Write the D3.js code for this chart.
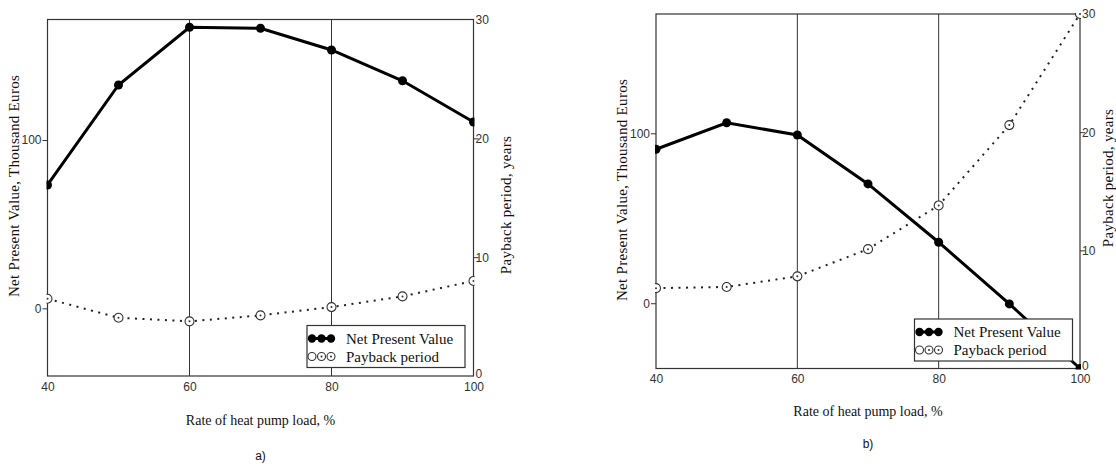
<!DOCTYPE html>
<html>
<head>
<meta charset="utf-8">
<script src="https://cdn.jsdelivr.net/npm/d3@7"></script>
<style>
  body { margin: 0; background: #fff; }
  svg { display: block; }
</style>
</head>
<body>
<svg id="chart" width="1116" height="464"></svg>
<script>
// Rate of heat pump load, %
const loads = [40, 50, 60, 70, 80, 90, 100];

// panel a)
const npvA = [73.3, 132.7, 167, 166.4, 153.5, 135.2, 110.7];
const paybackA = [6.5, 4.9, 4.6, 5.1, 5.8, 6.7, 8.0];

// panel b)
const npvB = [90.6, 106.2, 99, 70.2, 35.9, -0.4, -38.4];
const paybackB = [6.8, 6.9, 7.8, 10.1, 13.8, 20.6, 30];

// tick labels
const xTicks = [40, 60, 80, 100];
const gridX = [60, 80];
const npvTicks = [0, 100];
const paybackTicks = [0, 10, 20, 30];

const legendLabels = ["Net Present Value", "Payback period"];
const xTitle = "Rate of heat pump load, %";
const yTitleLeft = "Net Present Value, Thousand Euros";
const yTitleRight = "Payback period, years";

const svg = d3.select("#chart");
const serif = "'Liberation Serif', 'Times New Roman', serif";
const sans = "'Liberation Sans', Arial, sans-serif";
const axisColor = "#333";

function drawPanel(id, cfg, npv, payback) {
  const g = svg.append("g").attr("id", id);
  const x = d3.scaleLinear().domain([40, 100]).range([cfg.left, cfg.right]);
  const yL = d3.scaleLinear().domain(cfg.npvDomain).range([cfg.bottom, cfg.top]);
  const yR = d3.scaleLinear().domain([0, 30]).range([cfg.bottom, cfg.top]);

  // clip to plot area
  g.append("clipPath").attr("id", id + "-clip")
    .append("rect")
    .attr("x", cfg.left - 1).attr("y", cfg.top - 1)
    .attr("width", cfg.right - cfg.left + 2).attr("height", cfg.bottom - cfg.top + 2);

  // vertical grid lines
  g.selectAll(".grid")
    .data(gridX)
    .enter()
    .append("line")
    .attr("x1", d => x(d)).attr("x2", d => x(d))
    .attr("y1", cfg.top).attr("y2", cfg.bottom)
    .attr("stroke", axisColor).attr("stroke-width", 1);

  // left axis
  g.append("g")
    .attr("transform", `translate(${cfg.left},0)`)
    .call(d3.axisLeft(yL).tickValues(npvTicks).tickSize(5).tickPadding(1).tickFormat(d3.format("d")))
    .call(a => a.select(".domain").remove())
    .call(a => a.selectAll("line").attr("stroke", axisColor))
    .call(a => a.selectAll("text").attr("fill", axisColor).style("font", `12px ${sans}`));

  // right axis
  g.append("g")
    .attr("transform", `translate(${cfg.right},0)`)
    .call(d3.axisRight(yR).tickValues(paybackTicks).tickSize(5).tickPadding(1).tickFormat(d3.format("d")))
    .call(a => a.select(".domain").remove())
    .call(a => a.selectAll("line").attr("stroke", d => (d === 0 || d === 30) ? "none" : axisColor))
    .call(a => a.selectAll("text").attr("fill", axisColor).style("font", `12px ${sans}`)
      .attr("x", 2).attr("dy", d => d === 0 ? "0.1em" : "0.32em"));

  // bottom axis labels
  g.append("g")
    .attr("transform", `translate(0,${cfg.bottom})`)
    .call(d3.axisBottom(x).tickValues(xTicks).tickSize(0).tickPadding(cfg.xPad).tickFormat(d3.format("d")))
    .call(a => a.select(".domain").remove())
    .call(a => a.selectAll("text").attr("fill", axisColor).style("font", `12px ${sans}`));

  // plot frame
  g.append("rect")
    .attr("x", cfg.left).attr("y", cfg.top)
    .attr("width", cfg.right - cfg.left).attr("height", cfg.bottom - cfg.top)
    .attr("fill", "none").attr("stroke", axisColor).attr("stroke-width", 1.2);

  const plot = g.append("g").attr("clip-path", `url(#${id}-clip)`);

  // payback period, dotted
  const ptsP = loads.map((l, i) => [l, payback[i]]);
  plot.append("path")
    .datum(ptsP)
    .attr("d", d3.line().x(d => x(d[0])).y(d => yR(d[1])))
    .attr("fill", "none").attr("stroke", "#222")
    .attr("stroke-width", 2).attr("stroke-dasharray", "2,5.5");
  const pm = plot.selectAll(".pb").data(ptsP).enter().append("g")
    .attr("transform", d => `translate(${x(d[0])},${yR(d[1])})`);
  pm.append("circle").attr("r", 4.5).attr("fill", "#fff").attr("stroke", "#333").attr("stroke-width", 1.1);
  pm.append("circle").attr("r", 1).attr("fill", "#333");

  // net present value, solid
  const ptsN = loads.map((l, i) => [l, npv[i]]);
  plot.append("path")
    .datum(ptsN)
    .attr("d", d3.line().x(d => x(d[0])).y(d => yL(d[1])))
    .attr("fill", "none").attr("stroke", "#000").attr("stroke-width", 3);
  plot.selectAll(".npv").data(ptsN).enter().append("circle")
    .attr("cx", d => x(d[0])).attr("cy", d => yL(d[1]))
    .attr("r", 4.5).attr("fill", "#000");

  // legend
  const lw = 158, lh = 42;
  const lx = cfg.right - cfg.legendGap - lw;
  const ly = cfg.bottom - cfg.legendGap - lh;
  const lg = g.append("g").attr("transform", `translate(${lx},${ly})`);
  lg.append("rect").attr("width", lw).attr("height", lh)
    .attr("fill", "#fff").attr("stroke", axisColor).attr("stroke-width", 1.2);
  const sx = [5, 14.5, 24];
  // row 1 symbols
  lg.append("line").attr("x1", sx[0]).attr("x2", sx[2]).attr("y1", 13).attr("y2", 13)
    .attr("stroke", "#000").attr("stroke-width", 3);
  lg.selectAll(".ls1").data(sx).enter().append("circle")
    .attr("cx", d => d).attr("cy", 13).attr("r", 4.2).attr("fill", "#000");
  // row 2 symbols
  lg.selectAll(".ls2").data(sx).enter().append("circle")
    .attr("cx", d => d).attr("cy", 31).attr("r", 4).attr("fill", "#fff")
    .attr("stroke", "#333").attr("stroke-width", 1.1);
  lg.selectAll(".ls2d").data(sx.slice(1)).enter().append("circle")
    .attr("cx", d => d).attr("cy", 31).attr("r", 1).attr("fill", "#333");
  lg.selectAll(".lt").data(legendLabels).enter().append("text")
    .attr("x", 39).attr("y", (d, i) => 18 + i * 18)
    .style("font", `15px ${serif}`).attr("fill", "#111")
    .text(d => d);

  // axis titles
  g.append("text")
    .attr("transform", `translate(${cfg.yTitleL[0]},${cfg.yTitleL[1]}) rotate(-90)`)
    .attr("text-anchor", "middle").style("font", `15px ${serif}`).attr("fill", "#111")
    .style("letter-spacing", "0.3px")
    .text(yTitleLeft);
  g.append("text")
    .attr("transform", `translate(${cfg.yTitleR[0]},${cfg.yTitleR[1]}) rotate(-90)`)
    .attr("text-anchor", "middle").style("font", `15px ${serif}`).attr("fill", "#111")
    .style("letter-spacing", "0.3px")
    .text(yTitleRight);
  g.append("text")
    .attr("x", (cfg.left + cfg.right) / 2).attr("y", cfg.xTitleY)
    .attr("text-anchor", "middle").style("font", `14px ${serif}`).attr("fill", "#111")
    .text(xTitle);
  g.append("text")
    .attr("x", (cfg.left + cfg.right) / 2).attr("y", cfg.tagY)
    .attr("text-anchor", "middle").style("font", `12px ${sans}`).attr("fill", "#111")
    .text(cfg.tag);
}

drawPanel("panel-a", {
  left: 47.5, right: 473.5, top: 19.5, bottom: 376,
  npvDomain: [-40.2, 171.6], xPad: 6, legendGap: 8.5,
  yTitleL: [19, 186], yTitleR: [511, 205], xTitleY: 425, tagY: 460, tag: "a)"
}, npvA, paybackA);

drawPanel("panel-b", {
  left: 656, right: 1080, top: 14, bottom: 368.5,
  npvDomain: [-38.4, 170.2], xPad: 6, legendGap: 7.5,
  yTitleL: [627, 190], yTitleR: [1113, 178], xTitleY: 416, tagY: 448, tag: "b)"
}, npvB, paybackB);
</script>
</body>
</html>
